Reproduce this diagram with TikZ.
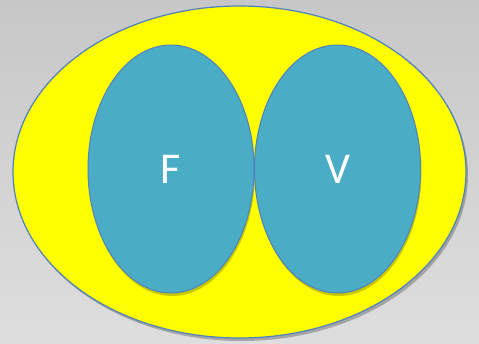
\documentclass[tikz,border=0pt]{standalone}
\usepackage{fontspec}
\setsansfont{Carlito}
\usepackage{tikz}
\usetikzlibrary{shapes.geometric, shadows}
\definecolor{setyellow}{HTML}{FFFF00}
\definecolor{setteal}{HTML}{4BACC6}
\definecolor{setline}{HTML}{4F81BD}

\begin{document}
\begin{tikzpicture}[
    x=1pt, y=-1pt,
    outer/.style={ellipse, draw=setline, line width=1.2pt, fill=setyellow, minimum width=453pt, minimum height=332pt, inner sep=0pt,
        drop shadow={shadow xshift=2pt, shadow yshift=-3pt, fill=black, opacity=0.25}},
    blob/.style={ellipse, draw=setline, line width=1pt, fill=setteal, minimum width=166pt, minimum height=248pt, inner sep=0pt,
        text=white, font=\sffamily\fontsize{44}{44}\selectfont,
        drop shadow={shadow xshift=1pt, shadow yshift=-3pt, fill=black!60!setyellow, opacity=0.35}}
]
\shade[shading angle=135, top color=black!22, bottom color=black!13] (0,0) rectangle (479,343);
\useasboundingbox (0,0) rectangle (479,343);

\node[outer] (universe) at (239.5,172) {};
\node[blob] (f) at (171,169) {F};
\node[blob] (v) at (337.5,169) {V};
\end{tikzpicture}
\end{document}
